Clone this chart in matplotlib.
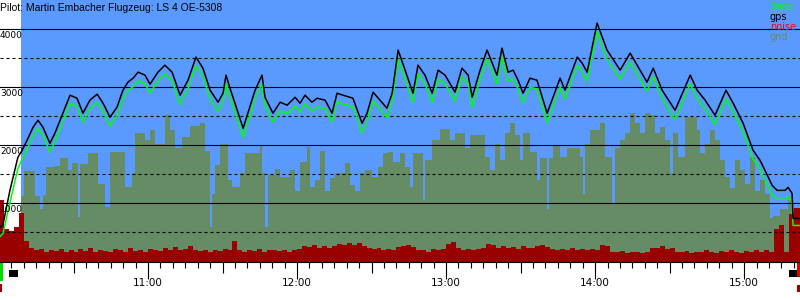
import numpy as np
import matplotlib.pyplot as plt
from matplotlib.transforms import blended_transform_factory
from matplotlib.patches import Rectangle

title = "Pilot: Martin Embacher Flugzeug: LS 4 OE-5308"

# times are minutes after 10:00, altitudes in metres
gps_t = [0.4, 1.6, 4.4, 7.6, 9.3, 11.3, 13.7, 15.7, 17.7, 20.5,
         22.5, 25.4, 28.6, 31.4, 33.8, 36.6, 39.5, 41.9, 44.7, 47.5,
         49.9, 51.9, 54.0, 56.0, 58.8, 60.8, 64.0, 66.8, 69.7, 72.9,
         76.1, 79.3, 82.1, 85.0, 88.2, 90.2, 91.4, 93.0, 98.3, 103.1,
         105.9, 107.1, 110.3, 113.2, 116.0, 119.2, 121.2, 123.2, 126.0, 128.1,
         131.3, 134.1, 136.1, 138.5, 142.5, 146.2, 148.2, 150.6, 153.4, 156.2,
         158.3, 160.7, 163.5, 166.7, 168.7, 171.5, 174.4, 176.8, 179.6, 183.6,
         186.4, 188.9, 190.5, 193.7, 196.5, 198.9, 200.5, 202.5, 205.0, 207.0,
         209.0, 211.0, 213.8, 216.6, 220.7, 225.9, 227.9, 232.8, 234.8, 236.8,
         240.8, 244.8, 250.1, 254.1, 260.9, 263.4, 267.0, 272.2, 278.3, 281.1,
         284.3, 288.3, 292.7, 295.6, 299.6, 303.6, 306.4, 308.4, 311.3, 313.3,
         316.5, 317.7, 319.3, 319.7, 322.5]

gps = [586, 638, 1224, 1793, 1914, 2086, 2310, 2431, 2310, 2034,
       2207, 2517, 2862, 2810, 2552, 2776, 2879, 2724, 2483, 2655,
       2948, 3086, 3155, 3258, 3207, 3051, 3258, 3379, 3258, 2862,
       3120, 3517, 3327, 2948, 2741, 2896, 3207, 2983, 2293, 2948,
       3207, 2827, 2552, 2741, 2690, 2827, 2724, 2862, 2741, 2810,
       2776, 2552, 2896, 2862, 2810, 2379, 2552, 2914, 2776, 2638,
       2896, 3638, 3293, 2896, 3379, 3207, 2896, 3293, 3207, 2914,
       3327, 3207, 2827, 3293, 3638, 3379, 3207, 3672, 3258, 3293,
       3120, 2896, 3155, 3120, 2552, 3155, 2948, 3517, 3414, 3258,
       4103, 3638, 3293, 3586, 3086, 3327, 2948, 2603, 3207, 2948,
       2776, 2517, 2948, 2724, 2379, 1914, 1741, 1569, 1310, 1224,
       1224, 1276, 1172, 741, 741]

baro = [430, 480, 1010, 1600, 1760, 1930, 2160, 2290, 2170, 1880,
        2060, 2370, 2720, 2670, 2400, 2630, 2740, 2580, 2330, 2510,
        2800, 2940, 3010, 3110, 3060, 2900, 3110, 3230, 3110, 2700,
        2970, 3370, 3180, 2800, 2590, 2750, 3060, 2830, 2140, 2800,
        3060, 2680, 2400, 2590, 2540, 2680, 2570, 2710, 2590, 2660,
        2630, 2400, 2750, 2710, 2660, 2220, 2400, 2760, 2630, 2480,
        2740, 3480, 3140, 2740, 3230, 3060, 2740, 3140, 3060, 2760,
        3180, 3060, 2650, 3140, 3480, 3230, 3060, 3520, 3110, 3140,
        2970, 2740, 3000, 2970, 2390, 3000, 2800, 3370, 3260, 3110,
        3950, 3480, 3140, 3430, 2930, 3180, 2800, 2450, 3060, 2800,
        2630, 2360, 2800, 2570, 2230, 1760, 1590, 1410, 1150, 1070,
        1070, 1120, 1020, 620, 620]

gnd_t = [8.9, 10.1, 14.5, 16.5, 17.7, 18.9, 22.5, 24.6, 27.8, 29.4,
         31.8, 32.6, 35.8, 39.9, 42.7, 44.7, 50.7, 53.6, 54.8, 58.8,
         60.8, 62.8, 66.8, 68.9, 70.9, 73.7, 76.9, 80.9, 83.0, 85.0,
         85.8, 87.0, 89.0, 92.2, 93.8, 97.0, 99.1, 105.1, 105.9, 107.1,
         108.3, 111.1, 113.2, 117.2, 119.2, 121.2, 124.0, 125.2, 127.2, 129.3,
         131.3, 133.3, 135.3, 137.3, 139.3, 141.3, 143.4, 145.4, 147.4, 150.2,
         152.6, 154.6, 156.6, 158.7, 161.5, 163.5, 165.5, 166.7, 170.7, 171.5,
         174.4, 177.6, 181.6, 183.6, 187.6, 189.7, 195.7, 197.7, 199.7, 201.7,
         203.8, 205.8, 207.8, 209.8, 211.0, 213.8, 216.6, 217.8, 220.7, 221.5,
         223.1, 225.9, 228.7, 233.9, 235.2, 236.0, 238.0, 242.0, 244.0, 246.8,
         248.0, 250.1, 252.1, 254.1, 256.1, 258.1, 260.1, 262.1, 264.2, 266.2,
         268.2, 270.2, 271.4, 273.4, 276.2, 281.1, 282.3, 284.3, 286.3, 288.3,
         290.3, 292.3, 294.4, 296.4, 298.4, 300.4, 302.4, 304.4, 306.4, 308.4,
         310.5, 311.7, 314.5, 317.7, 319.3, 321.7]

gnd = [1120, 1550, 1120, 910, 1140, 1620, 1640, 1780, 1570, 1690,
       760, 1670, 1860, 1340, 930, 1880, 1280, 1520, 2210, 2090,
       2260, 2030, 2520, 2260, 1950, 2140, 2330, 2380, 1910, 590,
       1170, 1660, 2020, 1400, 1280, 1530, 1860, 2000, 1520, 590,
       1480, 1600, 1450, 1570, 1220, 1710, 1970, 1280, 1400, 1910,
       1220, 1430, 1530, 1520, 1690, 1310, 1220, 1530, 1570, 1450,
       1620, 1860, 1880, 1710, 1860, 1620, 1280, 1860, 1050, 1740,
       2090, 2280, 2090, 2210, 1950, 2170, 1790, 1570, 2030, 1740,
       2210, 2380, 2170, 1740, 2210, 1880, 1400, 1780, 910, 1780,
       1980, 1790, 1950, 1790, 1170, 2030, 2260, 2380, 1790, 1000,
       1950, 2090, 2210, 2550, 2380, 2210, 2550, 2520, 2210, 2310,
       2090, 1520, 2210, 1790, 2480, 2260, 1860, 2030, 2260, 2090,
       1740, 1450, 1260, 1740, 1570, 1340, 1790, 1220, 1400, 1170,
       740, 790, 910, 1050, 660, 660]

# noise level, one value every 2 minutes from 10:00
noise = [1050, 560, 520, 600, 830, 360, 230, 190, 210, 170,
         200, 180, 220, 170, 190, 160, 210, 180, 230, 170,
         200, 180, 160, 220, 190, 170, 240, 180, 200, 170,
         210, 190, 180, 230, 200, 250, 190, 220, 260, 200,
         180, 190, 170, 200, 180, 210, 190, 360, 200, 170,
         190, 180, 210, 170, 200, 190, 180, 200, 170, 190,
         220, 260, 250, 290, 240, 270, 230, 260, 300, 280,
         320, 290, 310, 270, 230, 210, 240, 200, 220, 190,
         250, 270, 290, 250, 190, 200, 170, 210, 190, 220,
         300, 330, 240, 200, 220, 190, 210, 230, 300, 280,
         240, 260, 230, 250, 220, 260, 240, 230, 270, 280,
         250, 210, 190, 220, 200, 230, 190, 210, 200, 220,
         190, 280, 260, 170, 160, 180, 150, 170, 160, 150,
         170, 240, 230, 260, 220, 240, 170, 160, 180, 150,
         170, 160, 200, 170, 150, 180, 160, 190, 170, 150,
         180, 160, 200, 170, 190, 160, 560, 620, 160, 820,
         920]

hour_pos = [60, 120, 180, 240, 300]
hour_labels = ["11:00", "12:00", "13:00", "14:00", "15:00"]
alt_labels = [1000, 2000, 3000, 4000]
legend_names = ["baro", "gps", "noise", "gnd"]

sky_start = 8.9
t_min, t_max = 0.4, 322.5

sky_col = '#5a9aff'
gnd_col = '#668c66'
noise_col = '#990000'
baro_col = '#00ff00'
gps_col = 'black'

fig = plt.figure(figsize=(8, 3), dpi=100)
ax = fig.add_axes([0, 38.5 / 300, 1, 261.5 / 300])
ax.set_xlim(t_min, t_max)
ax.set_ylim(0, 4500)
ax.set_facecolor('white')
for s in ['top', 'left', 'right']:
    ax.spines[s].set_visible(False)
ax.spines['bottom'].set_linewidth(0.8)
ax.spines['bottom'].set_zorder(7)
ax.set_xticks([])
ax.set_yticks([])

ax.axvspan(sky_start, t_max, color=sky_col, lw=0, zorder=0)

# ground and noise areas
gt = np.append(gnd_t, t_max)
ga = np.append(gnd, gnd[-1])
ax.fill_between(gt, ga, step='post', color=gnd_col, lw=0, zorder=1)

nt = np.append(np.arange(len(noise)) * 2.0, t_max)
nv = np.append(noise, noise[-1])
ax.fill_between(nt, nv, step='post', color=noise_col, lw=0, zorder=2)

# altitude grid
for v in range(500, 4500, 500):
    if v % 1000 == 0:
        ax.axhline(v, color='black', lw=0.8, zorder=3)
    else:
        ax.axhline(v, color='black', lw=0.8, ls=(0, (2.7, 2.7)), zorder=3)

ax.plot(gps_t, baro, color=baro_col, lw=1.1, zorder=4)
ax.plot(gps_t, gps, color=gps_col, lw=1.1, zorder=5)

trans_y = blended_transform_factory(ax.transAxes, ax.transData)
for v in alt_labels:
    ax.annotate(str(v), xy=(0, v), xycoords=trans_y, xytext=(0, -2),
                textcoords='offset pixels', ha='left', va='top',
                fontsize=6.5, zorder=6)

# time ticks, every 5 minutes, longer at half and full hours
trans_x = blended_transform_factory(ax.transData, ax.transAxes)
h = 261.5
ticks = np.arange(5, 321, 5)
lens = np.where(ticks % 60 == 0, 17, np.where(ticks % 30 == 0, 11, 6)) / h
ax.vlines(ticks, -lens, 0, transform=trans_x, colors='black', lw=0.8,
          clip_on=False)
for t, lab in zip(hour_pos, hour_labels):
    ax.text(t, -21.5 / h, lab, transform=trans_x, ha='center', va='center',
            fontsize=7.5)

# start / end markers below the axis
ax.add_patch(Rectangle((0.4, -19.5 / h), 1.2, 18 / h, transform=trans_x,
                       color='#00dd00', lw=0, clip_on=False))
ax.add_patch(Rectangle((0.4, -30.5 / h), 0.8, 8 / h, transform=trans_x,
                       color=noise_col, lw=0, clip_on=False))
ax.add_patch(Rectangle((4.0, -15.5 / h), 3.6, 7 / h, transform=trans_x,
                       color='black', lw=0, clip_on=False))
ax.add_patch(Rectangle((318.1, -15.5 / h), 3.2, 7 / h, transform=trans_x,
                       color='black', lw=0, clip_on=False))
ax.add_patch(Rectangle((321.4, -15.5 / h), 1.0, 15 / h, transform=trans_x,
                       color='#dd0000', lw=0, clip_on=False))
ax.add_patch(Rectangle((321.4, -30.5 / h), 1.0, 7 / h, transform=trans_x,
                       color=noise_col, lw=0, clip_on=False))

fig.text(0, 1 - 8 / 300, title, ha='left', va='center', fontsize=7.5,
         family='Liberation Sans', zorder=8)

leg_cols = [baro_col, gps_col, 'red', gnd_col]
for i, (name, col) in enumerate(zip(legend_names, leg_cols)):
    fig.text(770 / 800, 1 - (7 + 10 * i) / 300, name, color=col,
             fontsize=7, ha='left', va='center', zorder=8)

fig.savefig('out.png', dpi=100)
